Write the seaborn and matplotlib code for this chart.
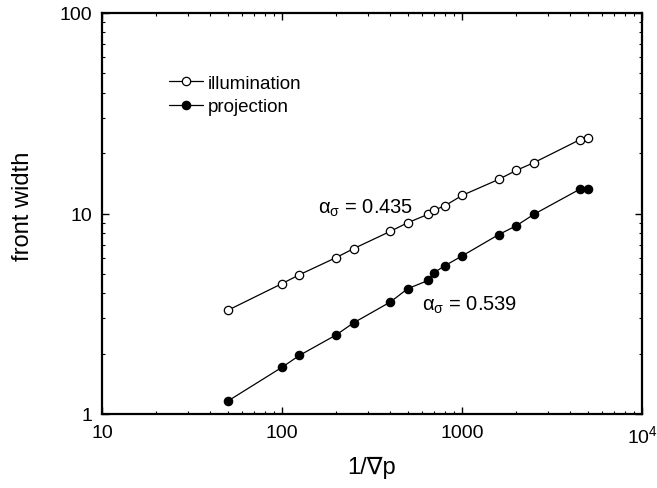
import matplotlib
matplotlib.use("Agg")
import matplotlib.pyplot as plt
import matplotlib.ticker as mticker
import seaborn as sns
import pandas as pd

# Data
inv_grad_p = [50, 100, 125, 200, 250, 400, 500, 650, 700, 800, 1000, 1600, 2000, 2500, 4500, 5000]
illumination = [3.29, 4.47, 4.95, 6.03, 6.68, 8.15, 9.0, 9.92, 10.4, 10.9, 12.3, 14.8, 16.4, 17.9, 23.3, 23.7]
projection = [1.16, 1.71, 1.96, 2.48, 2.85, 3.62, 4.22, 4.64, 5.07, 5.48, 6.14, 7.85, 8.68, 9.89, 13.2, 13.2]
series_names = ["illumination", "projection"]
annotations = [r"$\alpha_\sigma$ = 0.435", r"$\alpha_\sigma$ = 0.539"]
x_tick_vals = [10, 100, 1000, 10000]
x_tick_labels = ["10", "100", "1000", r"10$^4$"]
y_tick_vals = [1, 10, 100]
y_tick_labels = ["1", "10", "100"]

df = pd.DataFrame({
    "x": inv_grad_p * 2,
    "y": illumination + projection,
    "series": [series_names[0]] * len(inv_grad_p) + [series_names[1]] * len(inv_grad_p),
})

sns.set_style("ticks")
plt.rcParams["font.family"] = ["Liberation Sans", "DejaVu Sans"]
plt.rcParams["mathtext.fontset"] = "custom"
plt.rcParams["mathtext.rm"] = "Liberation Sans"
plt.rcParams["mathtext.it"] = "Liberation Sans"
plt.rcParams["mathtext.bf"] = "Liberation Sans:bold"
for k in ["text.color", "axes.labelcolor", "xtick.color", "ytick.color", "axes.edgecolor"]:
    plt.rcParams[k] = "black"

fig = plt.figure(figsize=(6.57, 4.89), dpi=100)
ax = fig.add_axes([102 / 657, 1 - 415 / 489, 540 / 657, 401 / 489])

face = {series_names[0]: "white", series_names[1]: "black"}
for name in series_names:
    sub = df[df["series"] == name]
    sns.lineplot(data=sub, x="x", y="y", ax=ax, color="black", linewidth=0.9,
                 marker="o", markersize=6, markerfacecolor=face[name],
                 markeredgecolor="black", markeredgewidth=0.9, label=name,
                 estimator=None, sort=True)

ax.set_xscale("log")
ax.set_yscale("log")
ax.set_xlim(10, 10000)
ax.set_ylim(1, 100)

ax.xaxis.set_major_locator(mticker.FixedLocator(x_tick_vals))
ax.xaxis.set_major_formatter(mticker.FixedFormatter(x_tick_labels))
ax.yaxis.set_major_locator(mticker.FixedLocator(y_tick_vals))
ax.yaxis.set_major_formatter(mticker.FixedFormatter(y_tick_labels))
ax.xaxis.set_minor_locator(mticker.LogLocator(base=10, subs=range(2, 10)))
ax.yaxis.set_minor_locator(mticker.LogLocator(base=10, subs=range(2, 10)))
ax.xaxis.set_minor_formatter(mticker.NullFormatter())
ax.yaxis.set_minor_formatter(mticker.NullFormatter())

ax.tick_params(which="both", direction="in", top=True, right=True, color="black")
ax.tick_params(which="major", length=5, width=1.0, labelsize=14, pad=7)
ax.tick_params(which="minor", length=2.5, width=0.8)
for s in ax.spines.values():
    s.set_linewidth(1.6)
    s.set_color("black")

ax.set_xlabel("1/\u2207p", fontsize=17)
ax.set_ylabel("front width", fontsize=17)
ax.xaxis.set_label_coords(0.5, -0.105)
ax.yaxis.set_label_coords(-0.125, 0.52)

ax.text(0.40, 0.516, annotations[0], transform=ax.transAxes, fontsize=14.5, va="center", ha="left")
ax.text(0.593, 0.274, annotations[1], transform=ax.transAxes, fontsize=14.5, va="center", ha="left")

leg = ax.legend(loc="upper left", bbox_to_anchor=(0.11, 0.865), frameon=False,
                fontsize=13.5, handlelength=1.8, handletextpad=0.25, labelspacing=0.35,
                borderaxespad=0)

fig.savefig("out.png", dpi=100)
